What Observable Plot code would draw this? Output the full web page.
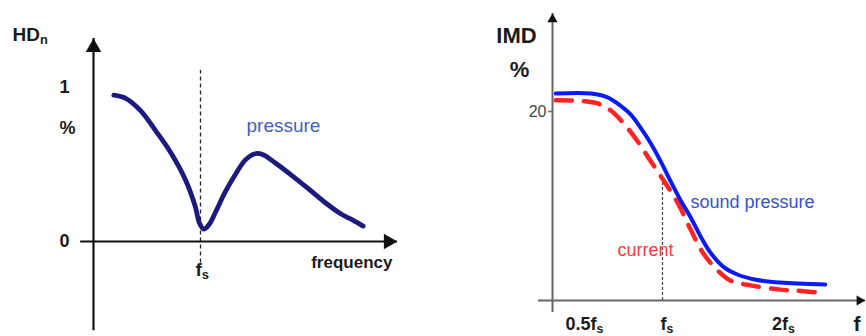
<!DOCTYPE html>
<html><head><meta charset="utf-8">
<script src="https://cdn.jsdelivr.net/npm/d3@7"></script>
<script src="https://cdn.jsdelivr.net/npm/@observablehq/plot@0.6"></script>
<style>
html,body{margin:0;padding:0;background:#fff;}
#wrap{position:relative;width:866px;height:336px;overflow:hidden;background:#fff;}
#wrap svg{position:absolute;top:0;}
</style></head><body><div id="wrap"></div>
<script>
// ---- Left chart: HDn (%) vs frequency, x in units of fs ----
const hdFreq = [0.19,0.30,0.44,0.58,0.72,0.86,0.95,0.99,1.03,1.08,1.14,1.23,1.33,1.42,1.51,1.58,1.70,1.87,2.03,2.17,2.31,2.42,2.52];
const hdPressure = [0.95,0.93,0.85,0.72,0.58,0.40,0.23,0.12,0.08,0.11,0.19,0.32,0.44,0.53,0.57,0.565,0.51,0.42,0.33,0.25,0.18,0.14,0.10];
const hdTicks = [0, 1];
const hdTickLabels = ["0", "1"];
const hdFs = [1];

// ---- Right chart: IMD (%) vs frequency, x in units of fs ----
const imdFreqSound = [0.03,0.35,0.50,0.62,0.71,0.80,0.89,0.98,1.07,1.16,1.26,1.35,1.44,1.56,1.68,1.85,2.07,2.48];
const imdSound = [21.9,21.9,21.5,20.6,19.7,18.3,16.7,14.8,12.7,10.7,8.7,6.7,5.0,3.5,2.75,2.2,1.9,1.7];
const imdFreqCurrent = [0.03,0.28,0.41,0.53,0.65,0.77,0.89,1.01,1.14,1.26,1.37,1.50,1.62,1.80,2.07,2.26,2.48];
const imdCurrent = [21.2,21.1,20.85,20.1,18.7,16.9,14.8,12.7,10.3,7.4,5.0,3.2,2.1,1.6,1.15,1.0,0.75];
const imdTicks = [20];
const imdFreqTickPos = [0.29, 1.04, 2.1];
const imdFreqTickLabels = ["0.5f_s", "f_s", "2f_s"];
const imdFs = [1];

const FONT = "Liberation Sans, Arial, sans-serif";
const INK = "#1b1b1b";

function subscripts(svg) {
  const ns = "http://www.w3.org/2000/svg";
  svg.querySelectorAll("text").forEach(t => {
    const s = t.textContent;
    if (!s.includes("_")) return;
    const [main, sub] = s.split("_");
    t.textContent = "";
    const a = document.createElementNS(ns, "tspan");
    a.textContent = main;
    const b = document.createElementNS(ns, "tspan");
    b.textContent = sub;
    b.setAttribute("font-size", "0.68em");
    b.setAttribute("dy", "0.25em");
    t.appendChild(a); t.appendChild(b);
  });
  return svg;
}

const left = Plot.plot({
  width: 433, height: 336, margin: 0,
  style: {background: "transparent", overflow: "visible"},
  x: {type: "linear", domain: [0, 1], range: [93, 200], axis: null},
  y: {type: "linear", domain: [0, 1], range: [241, 87], axis: null},
  marks: [
    Plot.ruleX(hdFs, {y1: -0.14, y2: 1.11, stroke: "#222", strokeWidth: 1.3, strokeDasharray: "4,3"}),
    Plot.ruleY([0], {x1: -0.12, x2: 2.84, stroke: "#111", strokeWidth: 2.2}),
    Plot.ruleX([0], {y1: -0.58, y2: 1.318, stroke: "#111", strokeWidth: 2.2}),
    Plot.dot([0], {x: 2.84, y: 0, symbol: "triangle", r: 5.8, rotate: 90, fill: "#111", stroke: "none", dx: -9}),
    Plot.dot([0], {x: 0, y: 1.318, symbol: "triangle", r: 5.8, fill: "#111", stroke: "none", dy: 9}),
    Plot.line(hdFreq.map((f, i) => ({f, v: hdPressure[i]})), {x: "f", y: "v", curve: "catmull-rom", stroke: "#1b1b7d", strokeWidth: 4.8, strokeLinecap: "round", strokeLinejoin: "round"}),
    Plot.text(hdTicks, {x: -0.271, y: d => d, text: (d, i) => hdTickLabels[i], fontFamily: FONT, fontWeight: "bold", fontSize: 18, fill: INK, textAnchor: "middle", lineAnchor: "middle"}),
    Plot.text(["%"], {x: -0.243, y: 0.734, text: d => d, fontFamily: FONT, fontWeight: "bold", fontSize: 18, fill: INK, textAnchor: "middle", lineAnchor: "middle"}),
    Plot.text(["HD_n"], {x: -0.757, y: 1.305, text: d => d, fontFamily: FONT, fontWeight: "bold", fontSize: 19, fill: INK, textAnchor: "start", lineAnchor: "bottom"}),
    Plot.text(["f_s"], {x: 0.953, y: -0.221, text: d => d, fontFamily: FONT, fontWeight: "bold", fontSize: 19, fill: INK, textAnchor: "start", lineAnchor: "bottom"}),
    Plot.text(["frequency"], {x: 2.794, y: -0.175, text: d => d, fontFamily: FONT, fontWeight: "bold", fontSize: 17, fill: INK, textAnchor: "end", lineAnchor: "bottom"}),
    Plot.text(["pressure"], {x: 1.43, y: 0.714, text: d => d, fontFamily: FONT, fontSize: 19, fill: "#3f5fc4", textAnchor: "start", lineAnchor: "bottom"})
  ]
});

const right = Plot.plot({
  width: 433, height: 336, margin: 0,
  style: {background: "transparent", overflow: "visible"},
  x: {type: "linear", domain: [0, 1], range: [119, 229], axis: null},
  y: {type: "linear", domain: [0, 20], range: [300, 111], axis: null},
  marks: [
    Plot.ruleX(imdFs, {y1: 0, y2: 13, stroke: "#444", strokeWidth: 1.2, strokeDasharray: "3,2"}),
    Plot.ruleY([0], {x1: -0.127, x2: 2.845, stroke: "#666", strokeWidth: 2}),
    Plot.ruleX([0], {y1: -1.27, y2: 30.37, stroke: "#666", strokeWidth: 2}),
    Plot.ruleY(imdTicks, {x1: -0.036, x2: 0, stroke: "#666", strokeWidth: 1.5}),
    Plot.dot([0], {x: 2.845, y: 0, symbol: "triangle", r: 3.8, rotate: 90, fill: "#111", stroke: "none", dx: -5.9}),
    Plot.dot([0], {x: 0, y: 30.37, symbol: "triangle", r: 3.8, fill: "#111", stroke: "none", dy: 5.9}),
    Plot.line(imdFreqCurrent.map((f, i) => ({f, v: imdCurrent[i]})), {x: "f", y: "v", curve: "catmull-rom", stroke: "#ff2424", strokeWidth: 4.5, strokeDasharray: "16,12"}),
    Plot.line(imdFreqSound.map((f, i) => ({f, v: imdSound[i]})), {x: "f", y: "v", curve: "catmull-rom", stroke: "#0a1af0", strokeWidth: 4, strokeLinecap: "round"}),
    Plot.text(imdTicks, {x: -0.055, y: d => d, text: d => String(d), fontFamily: FONT, fontSize: 16, fill: "#444", textAnchor: "end", lineAnchor: "middle"}),
    Plot.text(["IMD"], {x: -0.327, y: 27.3, text: d => d, fontFamily: FONT, fontWeight: "bold", fontSize: 22, fill: INK, textAnchor: "middle", lineAnchor: "bottom"}),
    Plot.text(["%"], {x: -0.3, y: 23.6, text: d => d, fontFamily: FONT, fontWeight: "bold", fontSize: 22, fill: INK, textAnchor: "middle", lineAnchor: "bottom"}),
    Plot.text(imdFreqTickPos, {x: d => d, y: -3.1, text: (d, i) => imdFreqTickLabels[i], fontFamily: FONT, fontWeight: "bold", fontSize: 18, fill: INK, textAnchor: "middle", lineAnchor: "bottom"}),
    Plot.text(["f"], {x: 2.736, y: -3.2, text: d => d, fontFamily: FONT, fontWeight: "bold", fontSize: 21, fill: INK, textAnchor: "start", lineAnchor: "bottom"}),
    Plot.text(["sound pressure"], {x: 1.255, y: 9.84, text: d => d, fontFamily: FONT, fontSize: 18, fill: "#3552cf", textAnchor: "start", lineAnchor: "bottom"}),
    Plot.text(["current"], {x: 0.591, y: 4.76, text: d => d, fontFamily: FONT, fontSize: 18, fill: "#ff3a3a", textAnchor: "start", lineAnchor: "bottom"})
  ]
});

const wrap = document.getElementById("wrap");
subscripts(left); subscripts(right);
left.style.left = "0px";
right.style.left = "433px";
wrap.appendChild(left);
wrap.appendChild(right);
</script>
</body></html>
